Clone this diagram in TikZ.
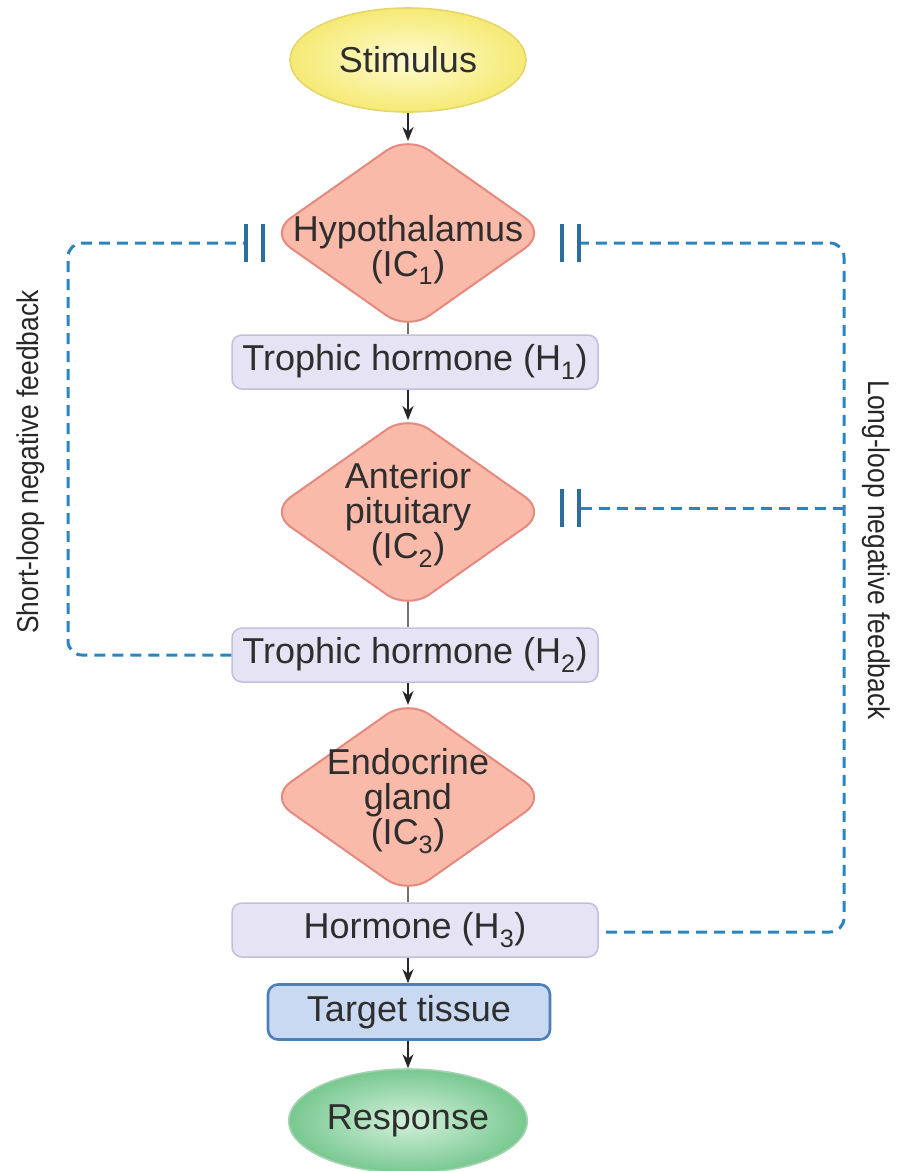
\documentclass[tikz,border=0pt]{standalone}
\usepackage{fontspec}
\setmainfont{Liberation Sans}
\usetikzlibrary{shapes.geometric,arrows.meta,backgrounds}
\definecolor{stimin}{HTML}{FFFBD2}
\definecolor{stimout}{HTML}{F5EA74}
\definecolor{stimbd}{HTML}{E6D66A}
\definecolor{dfill}{HTML}{F9BAAA}
\definecolor{dbd}{HTML}{E5897E}
\definecolor{hfill}{HTML}{E5E3F4}
\definecolor{hbd}{HTML}{C2BFDC}
\definecolor{tfill}{HTML}{C8D9F1}
\definecolor{tbd}{HTML}{4D80B8}
\definecolor{respin}{HTML}{D4F1DC}
\definecolor{respout}{HTML}{78C890}
\definecolor{respbd}{HTML}{A6D4B2}
\definecolor{fbblue}{HTML}{2A84BE}
\definecolor{barblue}{HTML}{2B6E9E}
\definecolor{txt}{HTML}{2E2E2E}
\begin{document}
\begin{tikzpicture}[x=1pt,y=-1pt,
  font=\fontsize{36}{35}\selectfont, text=txt,
  oval/.style={ellipse, minimum width=236pt, minimum height=104pt, line width=1.6pt},
  gland/.style={diamond, draw=dbd, fill=dfill, line width=2pt, minimum width=278pt, minimum height=196pt, inner sep=0pt, rounded corners=26pt},
  gtext/.style={align=center, inner sep=0pt},
  hbox/.style={rectangle, rounded corners=10pt, draw=hbd, fill=hfill, line width=1.5pt, minimum width=366pt, minimum height=54pt},
  tbox/.style={rectangle, rounded corners=10pt, draw=tbd, fill=tfill, line width=2.6pt, minimum width=282pt, minimum height=55pt},
  flow/.style={-{Stealth[length=14pt,width=11pt]}, line width=2pt, draw=black!85},
  link/.style={line width=2pt, draw=black!55},
  feedback/.style={draw=fbblue, line width=3pt, dash pattern=on 11pt off 7pt, rounded corners=14pt},
  barstyle/.style={draw=barblue, line width=4.5pt},
  side/.style={font=\fontsize{30}{30}\selectfont, text=black!85}
]
\useasboundingbox (0,0) rectangle (898,1171);

\node[oval, draw=stimbd, inner color=stimin, outer color=stimout] (stim) at (408,60) {Stimulus};
\node[gland] (hyp) at (408,233) {};
\node[gtext] (hypt) at (408,250) {Hypothalamus\\(IC\textsubscript{1})};
\node[hbox] (h1) at (415,362) {Trophic hormone (H\textsubscript{1})};
\node[gland] (ant) at (408,512) {};
\node[gtext] (antt) at (408,515) {Anterior\\pituitary\\(IC\textsubscript{2})};
\node[hbox] (h2) at (415,655) {Trophic hormone (H\textsubscript{2})};
\node[gland] (endo) at (408,797) {};
\node[gtext] (endot) at (408,801) {Endocrine\\gland\\(IC\textsubscript{3})};
\node[hbox] (h3) at (415,930) {Hormone (H\textsubscript{3})};
\node[tbox] (tgt) at (409,1012) {Target tissue};
\node[oval, draw=respbd, inner color=respin, outer color=respout] (resp) at (408,1121) {Response};

\node[side, rotate=90] (shortlbl) at (31,462) {\scalebox{0.88}[1]{Short-loop negative feedback}};
\node[side, rotate=-90] (longlbl) at (876,550) {\scalebox{0.88}[1]{Long-loop negative feedback}};

% main flow
\draw[flow] (stim.south) -- ([yshift=-7pt]hyp.north);
\draw[flow] (hyp.south |- h1.south) -- ([yshift=-7pt]ant.north);
\draw[flow] (ant.south |- h2.south) -- ([yshift=-7pt]endo.north);
\draw[flow] (endo.south |- h3.south) -- (endo.south |- tgt.north);
\draw[flow] (endo.south |- tgt.south) -- (resp.north);
\begin{pgfonlayer}{background}
\draw[link] (hyp.center) -- (hyp.center |- h1.north);
\draw[link] (ant.center) -- (ant.center |- h2.north);
\draw[link] (endo.center) -- (endo.center |- h3.north);
\end{pgfonlayer}

% feedback coordinates
\coordinate (hypL) at (246,243);
\coordinate (hypL2) at (263,243);
\coordinate (hypR) at (579,243);
\coordinate (hypR2) at (562,243);
\coordinate (antR) at (579,508);
\coordinate (antR2) at (562,508);
\coordinate (shortcorner) at (68,243);
\coordinate (shortbot) at (68,655);
\coordinate (longtop) at (844,243);
\coordinate (longmid) at (844,508);
\coordinate (longbot) at (844,932);
\coordinate (h3out) at (606,932);

% short loop
\draw[feedback] (h2.west) -- (shortbot) -- (shortcorner) -- (hypL);
\draw[barstyle] (hypL) ++(0,-19) -- ++(0,38);
\draw[barstyle] (hypL2) ++(0,-19) -- ++(0,38);

% long loop
\draw[feedback] (h3out) -- (longbot) -- (longtop) -- (hypR);
\draw[feedback, rounded corners=0pt] (longmid) -- (antR);
\draw[barstyle] (hypR) ++(0,-19) -- ++(0,38);
\draw[barstyle] (hypR2) ++(0,-19) -- ++(0,38);
\draw[barstyle] (antR) ++(0,-19) -- ++(0,38);
\draw[barstyle] (antR2) ++(0,-19) -- ++(0,38);
\end{tikzpicture}
\end{document}
